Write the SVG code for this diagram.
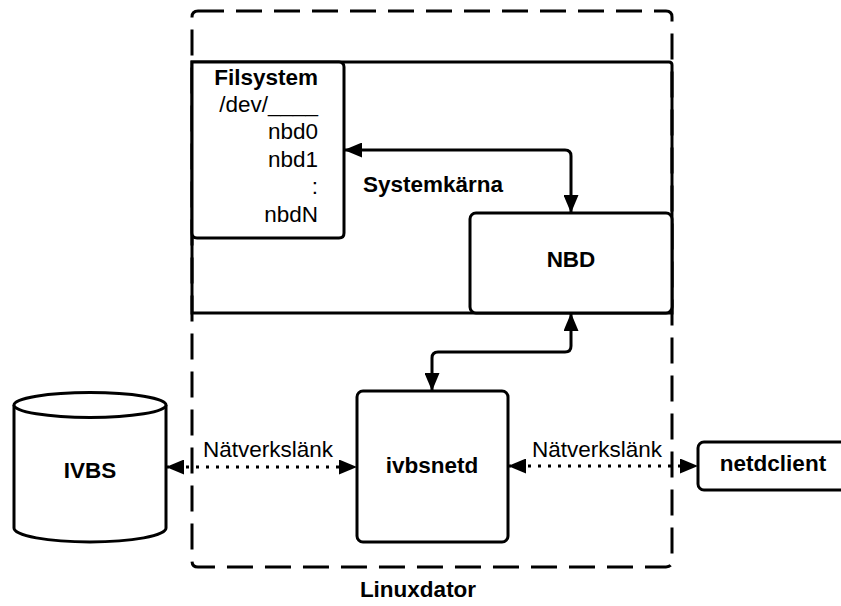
<svg xmlns="http://www.w3.org/2000/svg" width="841" height="606" viewBox="0 0 841 606">
  <defs>
    <style>
      .box { fill: #fff; stroke: #000; stroke-width: 3; }
      .line { fill: none; stroke: #000; stroke-width: 3; }
      .dash { fill: none; stroke: #000; stroke-width: 3; stroke-dasharray: 26 12; }
      .dot { fill: none; stroke: #000; stroke-width: 3; stroke-dasharray: 3 7; }
      .t { font-family: "Liberation Sans", Arial, sans-serif; font-size: 22.5px; fill: #000; }
      .b { font-weight: bold; }
    </style>
    <marker id="head" viewBox="0 0 18 15" refX="18" refY="7.5" markerWidth="18" markerHeight="15" markerUnits="userSpaceOnUse" orient="auto-start-reverse">
      <path d="M0,0 L18,7.5 L0,15 Z" fill="#000"/>
    </marker>
  </defs>

  <rect width="841" height="606" fill="#fff"/>

  <!-- Linuxdator host boundary -->
  <g id="linuxdator">
    <path class="dash" d="M198,11 H666 Q672,11 672,17 V561 Q672,567 666,567 H198 Q192,567 192,561 V17 Q192,11 198,11 Z"/>
    <text class="t b" x="418" y="597" text-anchor="middle">Linuxdator</text>
  </g>

  <!-- Kernel area -->
  <g id="systemkarna">
    <path class="line" d="M192,62 H669 Q672,62 672,65 V313 H192 Z"/>
    <text class="t b" x="363" y="192">Systemkärna</text>
  </g>

  <g id="filsystem">
    <path class="box" d="M192,62 H339 Q344,62 344,67 V233 Q344,238 339,238 H197 Q192,238 192,233 Z"/>
    <g class="t" text-anchor="end">
      <text class="b" x="318" y="85">Filsystem</text>
      <text x="318" y="112">/dev/____</text>
      <text x="318" y="139">nbd0</text>
      <text x="318" y="167">nbd1</text>
      <text x="318" y="194">:</text>
      <text x="318" y="222">nbdN</text>
    </g>
  </g>

  <g id="nbd">
    <rect class="box" x="470" y="213" width="202" height="100" rx="6"/>
    <text class="t b" x="571" y="267" text-anchor="middle">NBD</text>
  </g>

  <g id="ivbsnetd">
    <rect class="box" x="357" y="391" width="151" height="151" rx="6"/>
    <text class="t b" x="432" y="473" text-anchor="middle">ivbsnetd</text>
  </g>

  <g id="ivbs">
    <path class="box" d="M14,405 V528 A76,14 0 0 0 166,528 V405"/>
    <ellipse class="box" cx="90" cy="405" rx="76" ry="12.5"/>
    <text class="t b" x="90" y="478" text-anchor="middle">IVBS</text>
  </g>

  <g id="netdclient">
    <rect class="box" x="698" y="442" width="150" height="48" rx="6"/>
    <text class="t b" x="773" y="471" text-anchor="middle">netdclient</text>
  </g>

  <!-- Connectors -->
  <g id="connectors">
    <path class="line" d="M344,150 H565 Q571,150 571,156 V213" marker-start="url(#head)" marker-end="url(#head)"/>
    <path class="line" d="M571,313 V346 Q571,352 565,352 H438 Q432,352 432,358 V391" marker-start="url(#head)" marker-end="url(#head)"/>
    <path class="dot" d="M166,467 H357" marker-start="url(#head)" marker-end="url(#head)"/>
    <path class="dot" d="M508,466 H698" marker-start="url(#head)" marker-end="url(#head)"/>
    <text class="t" x="268" y="457" text-anchor="middle">Nätverkslänk</text>
    <text class="t" x="597" y="457" text-anchor="middle">Nätverkslänk</text>
  </g>
</svg>
